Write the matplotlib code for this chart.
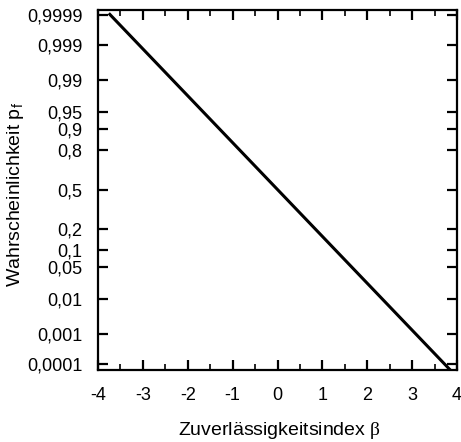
import numpy as np
import matplotlib
matplotlib.use("Agg")
import matplotlib.pyplot as plt
from statistics import NormalDist

# reliability index beta vs. failure probability pf (probit scale)
beta = [-3.76, 3.86]
pf = [0.999915, 0.0000567]

y_ticks = [0.9999, 0.999, 0.99, 0.95, 0.9, 0.8, 0.5, 0.2, 0.1, 0.05, 0.01, 0.001, 0.0001]
y_labels = ['0,9999', '0,999', '0,99', '0,95', '0,9', '0,8', '0,5', '0,2', '0,1', '0,05', '0,01', '0,001', '0,0001']
x_ticks = [-4, -3, -2, -1, 0, 1, 2, 3, 4]

N = NormalDist()
_ppf = np.vectorize(N.inv_cdf, otypes=[float])
_cdf = np.vectorize(N.cdf, otypes=[float])


def probit(p):
    p = np.clip(np.asarray(p, dtype=float), 1e-12, 1 - 1e-12)
    return _ppf(p)


def inv_probit(z):
    return _cdf(np.asarray(z, dtype=float))


plt.rcParams['font.family'] = ['Liberation Sans', 'DejaVu Sans']
plt.rcParams['mathtext.fontset'] = 'custom'
plt.rcParams['mathtext.rm'] = 'Liberation Serif'

fig = plt.figure(figsize=(4.61, 4.42), dpi=100)
ax = fig.add_axes([98 / 461, 1 - 370 / 442, (457 - 98) / 461, (370 - 10) / 442])

ax.plot(beta, pf, color='black', lw=2.2, solid_capstyle='butt')

ax.set_yscale('function', functions=(probit, inv_probit))
ax.set_ylim(N.cdf(-3.85), N.cdf(3.83))
ax.set_xlim(-4, 4)

ax.set_yticks(y_ticks)
ax.set_yticklabels(y_labels)
ax.yaxis.set_minor_locator(matplotlib.ticker.NullLocator())
ax.set_xticks(x_ticks)
ax.set_xticklabels([str(v) for v in x_ticks])
ax.set_xticks(np.arange(-3.5, 4, 1.0), minor=True)

for s in ax.spines.values():
    s.set_linewidth(1.6)

ax.tick_params(axis='both', which='major', direction='in', length=7, width=1.6,
               labelsize=13, pad=12, top=True, right=True)
ax.tick_params(axis='y', which='major', pad=11)
ax.tick_params(axis='x', which='minor', direction='in', length=4, width=1.2,
               top=True, bottom=True)

fig.text(279 / 461, 1 - 435 / 442, 'Zuverlässigkeitsindex $\\mathrm{\\beta}$', ha='center',
         va='baseline', fontsize=14)
fig.text(20 / 461, 1 - 195 / 442, 'Wahrscheinlichkeit p$_\\mathregular{f}$', ha='center',
         va='baseline', rotation=90, rotation_mode='anchor', fontsize=14)

fig.savefig('out.png', dpi=100)
